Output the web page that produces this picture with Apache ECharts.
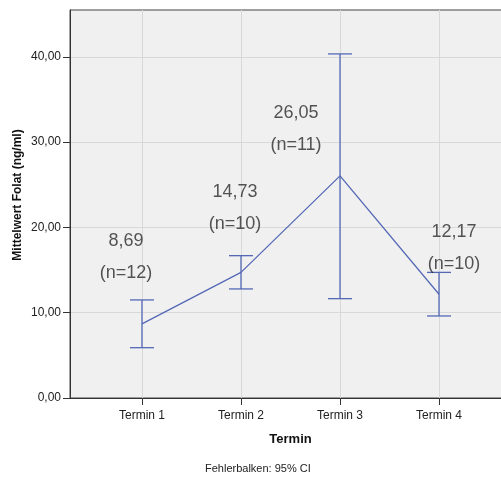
<!DOCTYPE html>
<html>
<head>
<meta charset="utf-8">
<script src="https://cdn.jsdelivr.net/npm/echarts@6/dist/echarts.min.js"></script>
<style>
  html, body { margin: 0; padding: 0; background: #ffffff; }
  #chart { width: 501px; height: 478px; }
</style>
</head>
<body>
<div id="chart"></div>
<script>
// Folate means per appointment with 95% confidence intervals
const categories = ['Termin 1', 'Termin 2', 'Termin 3', 'Termin 4'];
const means = [8.69, 14.73, 26.05, 12.17];
const ciLower = [5.90, 12.79, 11.65, 9.62];
const ciUpper = [11.50, 16.69, 40.35, 14.73];
const groupSizes = [12, 10, 11, 10];
const yTicks = [0, 10, 20, 30, 40];

// label placement relative to each mean point (pixels)
const labelOffsets = [[-16, -67], [-6, -64], [-44, -47], [15, -46]];

const FONT = '"Liberation Sans", Arial, sans-serif';
const LINE = '#5468b6';
const fmt = v => v.toFixed(2).replace('.', ',');

// x positions 1..n, with margins either side of the first and last category
const xPad = 0.727;
const xs = categories.map((c, i) => i + 1);

const chart = echarts.init(document.getElementById('chart'), null, { renderer: 'canvas' });

chart.setOption({
  animation: false,
  backgroundColor: '#ffffff',
  textStyle: { fontFamily: FONT },
  grid: {
    left: 70, top: 10, right: -10, bottom: 80,
    outerBoundsMode: 'none',
    containLabel: false,
    show: true,
    backgroundColor: '#f0f0f0',
    borderColor: '#444',
    borderWidth: 1
  },
  xAxis: {
    type: 'value',
    min: 1 - xPad,
    max: categories.length + xPad,
    name: 'Termin',
    nameLocation: 'middle',
    nameGap: 35,
    nameTextStyle: { fontFamily: FONT, fontSize: 13, fontWeight: 'bold', color: '#111' },
    axisLine: { show: true, lineStyle: { color: '#333', width: 1 } },
    axisTick: { show: true, length: 7, customValues: xs, lineStyle: { color: '#333' } },
    axisLabel: {
      customValues: xs,
      margin: 12,
      fontFamily: FONT, fontSize: 12, color: '#222',
      formatter: v => categories[Math.round(v) - 1] || ''
    },
    splitLine: { show: true, lineStyle: { color: '#d8d8d8', width: 1 } }
  },
  yAxis: {
    type: 'value',
    min: 0,
    max: 45.5,
    axisLine: { show: true, lineStyle: { color: '#333', width: 1 } },
    axisTick: { show: true, length: 7, customValues: yTicks, lineStyle: { color: '#333' } },
    axisLabel: {
      customValues: yTicks,
      margin: 9,
      fontFamily: FONT, fontSize: 12, color: '#222',
      formatter: v => fmt(v)
    },
    splitLine: { show: true, lineStyle: { color: '#d8d8d8', width: 1 } }
  },
  graphic: [
    {
      type: 'text',
      x: 18,
      y: 195,
      rotation: Math.PI / 2,
      style: {
        text: 'Mittelwert Folat (ng/ml)',
        font: 'bold 12px ' + FONT,
        fill: '#111',
        align: 'center',
        verticalAlign: 'middle'
      }
    },
    {
      type: 'text',
      left: 205,
      top: 463,
      style: {
        text: 'Fehlerbalken: 95% CI',
        font: '11px ' + FONT,
        fill: '#222'
      }
    }
  ],
  series: [
    {
      type: 'line',
      data: xs.map((x, i) => [x, means[i]]),
      symbol: 'none',
      lineStyle: { color: LINE, width: 1.3 },
      z: 3
    },
    {
      type: 'custom',
      z: 4,
      data: xs.map((x, i) => [x, ciLower[i], ciUpper[i]]),
      renderItem: (params, api) => {
        const lo = api.coord([api.value(0), api.value(1)]);
        const hi = api.coord([api.value(0), api.value(2)]);
        const half = 12;
        const style = { stroke: LINE, lineWidth: 1.3 };
        return {
          type: 'group',
          children: [
            { type: 'line', shape: { x1: lo[0], y1: lo[1], x2: hi[0], y2: hi[1] }, style },
            { type: 'line', shape: { x1: hi[0] - half, y1: hi[1], x2: hi[0] + half, y2: hi[1] }, style },
            { type: 'line', shape: { x1: lo[0] - half, y1: lo[1], x2: lo[0] + half, y2: lo[1] }, style }
          ]
        };
      }
    },
    {
      type: 'scatter',
      symbolSize: 0,
      z: 5,
      data: xs.map((x, i) => ({
        value: [x, means[i]],
        label: { offset: labelOffsets[i] }
      })),
      label: {
        show: true,
        position: 'inside',
        fontFamily: FONT,
        fontSize: 18,
        lineHeight: 32,
        color: '#2b2b2b',
        align: 'center',
        formatter: p => fmt(means[p.dataIndex]) + '\n(n=' + groupSizes[p.dataIndex] + ')'
      }
    }
  ]
});
</script>
</body>
</html>
